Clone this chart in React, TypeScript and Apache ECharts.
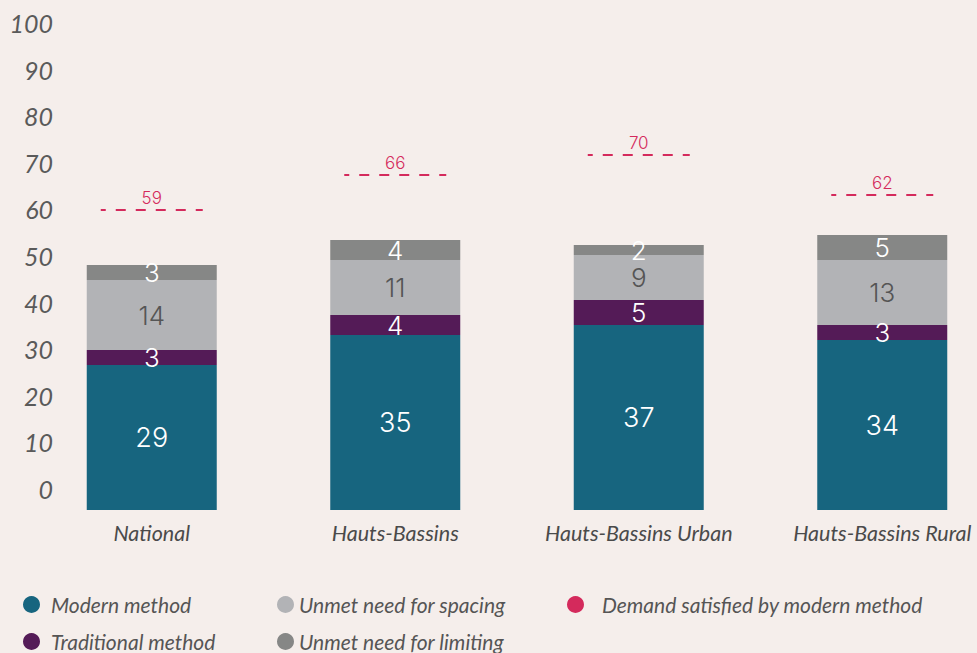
import React, { useEffect, useRef } from "react";
import * as echarts from "echarts";

const categories = ["National", "Hauts-Bassins", "Hauts-Bassins Urban", "Hauts-Bassins Rural"];
const modernMethod = [29, 35, 37, 34];
const traditionalMethod = [3, 4, 5, 3];
const unmetSpacing = [14, 11, 9, 13];
const unmetLimiting = [3, 4, 2, 5];
const demandSatisfied = [59, 66, 70, 62];
const yTicks = [0, 100, 10];

const BG = "#f5eeeb";
const TEAL = "#17657f";
const PURPLE = "#541b57";
const LIGHTGRAY = "#b2b3b6";
const DARKGRAY = "#868786";
const CRIMSON = "#d42a5c";
const LABEL_FONT = "Inter";

export default function App() {
  const ref = useRef<HTMLDivElement>(null);
  useEffect(() => {
    if (!ref.current) return;
    const chart = echarts.init(ref.current, null, { renderer: "svg" });
    const barLabel = (color: string, size: number) => ({
      show: true,
      position: "inside",
      color,
      fontFamily: LABEL_FONT,
      fontWeight: 300,
      fontSize: size,
    });
    const legendBase = {
      orient: "horizontal",
      icon: "circle",
      itemWidth: 17,
      itemHeight: 17,
      selectedMode: false,
      textStyle: {
        fontFamily: "Lato",
        fontStyle: "italic",
        fontSize: 21,
        color: "#555555",
      },
    };
    const option: any = {
      animation: false,
      backgroundColor: BG,
      grid: [
        { left: 30, width: 974, top: 10, height: 500 },
        { left: 61, width: 10, top: 23, height: 466 },
      ],
      xAxis: [
        {
          type: "category",
          gridIndex: 0,
          data: categories,
          axisLine: { show: false },
          axisTick: { show: false },
          axisLabel: {
            interval: 0,
            hideOverlap: false,
            margin: 12,
            fontFamily: "Lato",
            fontStyle: "italic",
            fontSize: 21.5,
            color: "#4a4a4a",
          },
        },
        { type: "value", gridIndex: 1, show: false },
      ],
      yAxis: [
        { type: "value", gridIndex: 0, min: 0, max: 100, show: false },
        {
          type: "value",
          gridIndex: 1,
          min: yTicks[0],
          max: yTicks[1],
          interval: yTicks[2],
          axisLine: { show: false },
          axisTick: { show: false },
          splitLine: { show: false },
          axisLabel: {
            margin: 8,
            fontFamily: "Lato",
            fontStyle: "italic",
            fontSize: 25,
            color: "#5a5a5a",
          },
        },
      ],
      legend: [
        { ...legendBase, left: 18, top: 589, data: ["Modern method"], textStyle: { ...legendBase.textStyle, padding: [0, 0, 0, 6] } },
        { ...legendBase, left: 18, top: 626, data: ["Traditional method"], textStyle: { ...legendBase.textStyle, padding: [0, 0, 0, 6] } },
        { ...legendBase, left: 272, top: 589, data: ["Unmet need for spacing"], textStyle: { ...legendBase.textStyle, padding: [0, 0, 0, 0] } },
        { ...legendBase, left: 272, top: 626, data: ["Unmet need for limiting"], textStyle: { ...legendBase.textStyle, padding: [0, 0, 0, 0] } },
        { ...legendBase, left: 562, top: 589, data: ["Demand satisfied by modern method"], textStyle: { ...legendBase.textStyle, padding: [0, 0, 0, 13] } },
      ],
      series: [
        {
          name: "Modern method",
          type: "bar",
          stack: "total",
          barWidth: 130,
          data: modernMethod,
          itemStyle: { color: TEAL },
          label: barLabel("#ffffff", 27),
        },
        {
          name: "Traditional method",
          type: "bar",
          stack: "total",
          barWidth: 130,
          data: traditionalMethod,
          itemStyle: { color: PURPLE },
          label: barLabel("#ffffff", 26),
        },
        {
          name: "Unmet need for spacing",
          type: "bar",
          stack: "total",
          barWidth: 130,
          data: unmetSpacing,
          itemStyle: { color: LIGHTGRAY },
          label: barLabel("#555555", 26),
        },
        {
          name: "Unmet need for limiting",
          type: "bar",
          stack: "total",
          barWidth: 130,
          data: unmetLimiting,
          itemStyle: { color: DARKGRAY },
          label: barLabel("#ffffff", 26),
        },
        {
          name: "Demand satisfied by modern method",
          type: "custom",
          itemStyle: { color: CRIMSON },
          data: demandSatisfied.map((v, i) => [i, v]),
          renderItem: (params: any, api: any) => {
            const p = api.coord([api.value(0), api.value(1)]);
            const half = 51;
            return {
              type: "group",
              children: [
                {
                  type: "line",
                  shape: { x1: p[0] - half, y1: p[1] - 5, x2: p[0] + half, y2: p[1] - 5 },
                  style: { stroke: CRIMSON, lineWidth: 2, lineDash: [10, 10], lineDashOffset: 5 },
                },
                {
                  type: "text",
                  x: p[0],
                  y: p[1] - 17,
                  style: {
                    text: String(api.value(1)),
                    fill: CRIMSON,
                    fontFamily: LABEL_FONT,
                    fontWeight: 300,
                    fontSize: 17,
                    align: "center",
                    verticalAlign: "middle",
                  },
                },
              ],
            };
          },
        },
      ],
    };
    chart.setOption(option);
    return () => chart.dispose();
  }, []);
  return (
    <div style={{ position: "fixed", left: 0, top: 0, width: 977, height: 653, overflow: "hidden", background: BG }}>
      <div ref={ref} style={{ width: 1010, height: 653 }} />
    </div>
  );
}
